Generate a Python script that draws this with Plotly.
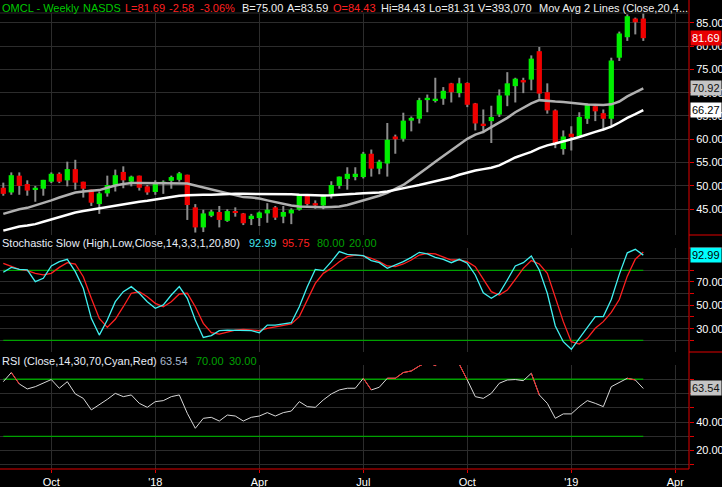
import plotly.graph_objects as go
import pandas as pd

# ---------------- data ----------------
dates = pd.date_range("2017-08-21", periods=81, freq="7D")

opens = [49.6, 48.6, 52.2, 50.4, 49.2, 49.4, 50.9, 52.6, 51.2, 53.6,
         50.9, 49.2, 46.1, 48.4, 50.2, 53.0, 50.9, 52.2, 49.9, 48.7,
         50.6, 51.1, 51.3, 52.4, 45.4, 41.1, 43.6, 44.4, 42.5, 44.45,
         44.1, 42.9, 43.1, 44.1, 45.4, 43.4, 44.1, 44.9, 47.9, 46.3,
         45.8, 48.1, 50.0, 51.5, 51.9, 51.9, 56.9, 53.7, 54.8, 60.6,
         60.1, 64.0, 64.4, 68.4, 68.4, 68.7, 72.0, 69.9, 72.1, 67.7,
         63.35, 63.9, 65.3, 69.4, 71.4, 72.7, 72.8, 78.9, 70.1, 66.2,
         57.9, 61.2, 60.6, 64.4, 67.1, 65.6, 64.4, 77.5, 81.9, 85.9, 85.9]
highs = [50.7, 52.9, 52.9, 51.2, 50.0, 51.3, 52.9, 52.9, 55.2, 55.6,
         50.9, 49.2, 48.8, 52.2, 53.5, 54.2, 52.2, 52.2, 50.2, 51.2,
         51.2, 52.2, 53.0, 52.4, 46.1, 44.9, 44.9, 45.7, 45.0, 45.4,
         44.2, 44.0, 44.5, 46.3, 45.7, 45.7, 45.2, 48.2, 48.2, 46.9,
         48.1, 51.0, 52.0, 54.0, 54.0, 57.3, 57.8, 55.6, 63.5, 61.0,
         65.7, 64.9, 68.9, 69.6, 73.2, 71.2, 72.1, 73.2, 72.2, 67.8,
         66.4, 67.2, 70.7, 74.4, 73.2, 73.2, 78.0, 79.8, 72.0, 66.4,
         61.9, 62.8, 65.8, 67.7, 67.4, 66.4, 77.5, 83.1, 86.8, 86.1, 87.0]
lows = [47.9, 48.1, 48.1, 47.9, 46.6, 47.9, 50.6, 50.6, 49.9, 49.2,
        47.5, 45.7, 44.0, 47.7, 48.8, 49.5, 49.9, 49.0, 48.1, 48.1,
        48.3, 49.4, 50.9, 42.7, 40.0, 40.1, 43.3, 41.1, 42.3, 43.4,
        41.6, 41.6, 41.4, 42.1, 42.7, 42.0, 41.8, 44.7, 45.8, 45.1,
        45.0, 47.3, 49.4, 49.2, 51.2, 51.6, 52.0, 52.5, 52.0, 56.9,
        59.5, 61.7, 63.4, 65.8, 67.9, 67.4, 67.9, 69.0, 66.9, 61.9,
        61.3, 59.2, 64.8, 67.1, 67.9, 69.9, 70.5, 68.7, 65.5, 58.1,
        56.7, 57.6, 60.5, 63.3, 63.9, 61.9, 62.9, 76.8, 81.1, 82.5, 81.1]
closes = [48.3, 52.3, 50.0, 49.0, 49.6, 51.3, 52.6, 50.9, 53.6, 50.7,
          49.4, 46.4, 48.4, 50.2, 52.3, 51.2, 52.0, 49.6, 48.6, 50.4,
          50.9, 51.9, 52.7, 45.9, 41.1, 44.1, 44.5, 42.7, 44.6, 44.2,
          42.0, 43.6, 44.3, 44.9, 43.2, 44.4, 44.9, 48.1, 46.1, 45.8,
          47.9, 50.2, 52.0, 52.6, 52.6, 56.9, 53.7, 55.2, 59.9, 60.0,
          64.0, 64.6, 68.4, 68.9, 68.7, 70.4, 70.1, 72.0, 67.4, 63.4,
          63.0, 64.8, 69.4, 72.0, 73.0, 72.2, 77.3, 69.8, 66.2, 59.0,
          60.6, 60.5, 64.8, 67.4, 66.0, 64.4, 76.9, 82.7, 86.4, 85.1, 81.69]

ma20 = [44.0, 44.5, 45.0, 45.3, 45.8, 46.3, 46.9, 47.5, 48.1, 48.6,
        48.8, 48.9, 49.1, 49.6, 50.1, 50.4, 50.6, 50.6, 50.6, 50.6,
        50.6, 50.6, 50.6, 50.5, 50.1, 49.7, 49.3, 48.8, 48.5, 48.0,
        47.6, 47.5, 47.3, 46.9, 46.5, 46.1, 45.8, 45.6, 45.5, 45.4,
        45.4, 45.5, 45.6, 45.9, 46.4, 46.8, 47.3, 47.9, 48.5, 49.3,
        50.2, 51.4, 52.6, 53.9, 55.2, 56.4, 57.6, 58.9, 60.1, 61.0,
        61.6, 62.6, 63.6, 64.6, 65.8, 66.7, 67.7, 68.4, 68.2, 68.1,
        68.0, 67.8, 67.6, 67.45, 67.4, 67.35, 67.5, 68.1, 69.2, 70.1, 70.92]
ma40 = [40.4, 40.9, 41.3, 41.5, 41.8, 42.3, 42.8, 43.3, 43.9, 44.3,
        44.6, 44.9, 45.1, 45.4, 45.7, 46.0, 46.4, 46.6, 46.8, 47.1,
        47.4, 47.6, 47.9, 48.0, 48.1, 48.1, 48.1, 48.2, 48.2, 48.3,
        48.3, 48.3, 48.3, 48.3, 48.25, 48.2, 48.2, 48.1, 48.0, 47.95,
        47.95, 48.0, 48.05, 48.1, 48.3, 48.45, 48.5, 48.6, 48.8, 49.1,
        49.5, 49.85, 50.2, 50.6, 51.0, 51.4, 51.8, 52.4, 52.9, 53.3,
        53.6, 53.9, 54.4, 55.3, 56.1, 56.7, 57.3, 58.1, 58.7, 59.1,
        59.5, 60.0, 60.5, 61.1, 61.6, 62.1, 62.7, 63.6, 64.6, 65.4, 66.27]

stoch_k = [78.3, 82.5, 80.8, 80.3, 70.3, 73.1, 83.7, 87.4, 89.4, 78.8,
           64.6, 38.8, 24.5, 37.4, 53.1, 61.7, 66.0, 60.3, 53.1, 47.4,
           50.3, 58.8, 66.0, 56.0, 37.4, 22.5, 24.0, 28.3, 28.8, 28.8,
           28.3, 28.3, 26.5, 33.1, 33.1, 34.0, 35.1, 48.8, 66.0, 80.8,
           79.7, 87.4, 96.0, 93.7, 93.1, 92.5, 88.3, 86.5, 81.7, 84.5,
           87.4, 91.1, 95.4, 94.0, 91.1, 89.4, 86.5, 89.4, 86.0, 76.0,
           60.8, 56.0, 60.3, 71.7, 83.7, 86.5, 92.3, 80.3, 60.3, 32.3,
           18.8, 12.3, 21.7, 31.1, 40.3, 40.3, 55.0, 76.5, 95.0, 98.0, 92.99]
stoch_d = [86.0, 83.7, 80.8, 79.7, 77.4, 76.0, 77.4, 82.5, 86.5, 85.4,
           74.5, 56.0, 38.8, 31.1, 38.0, 48.8, 60.3, 61.7, 57.4, 51.7,
           48.8, 53.1, 59.7, 60.3, 48.8, 34.5, 26.5, 25.4, 27.4, 28.8,
           29.4, 28.8, 28.3, 30.3, 31.7, 33.1, 34.0, 40.3, 54.5, 68.8,
           77.4, 81.7, 87.4, 91.7, 93.1, 92.3, 90.3, 87.4, 83.7, 83.1,
           85.4, 88.8, 93.1, 94.5, 94.0, 91.1, 88.8, 88.8, 87.4, 83.1,
           72.3, 61.7, 58.8, 63.1, 72.3, 81.7, 88.3, 85.4, 77.4, 57.4,
           36.0, 18.8, 16.8, 21.7, 30.3, 36.0, 44.0, 55.0, 75.0, 89.5, 95.75]
rsi = [68.3, 74.7, 66.7, 63.2, 64.8, 67.2, 69.8, 63.7, 68.3, 59.7,
       56.6, 48.5, 52.0, 55.9, 60.1, 57.8, 59.0, 53.1, 50.3, 54.3,
       55.0, 57.8, 59.0, 46.1, 35.6, 42.6, 43.3, 40.7, 44.9, 44.2,
       40.7, 43.3, 44.2, 46.6, 44.2, 46.6, 47.7, 54.3, 50.8, 50.3,
       55.5, 59.7, 62.5, 63.7, 63.7, 70.7, 62.5, 64.4, 70.7, 70.7,
       74.7, 75.8, 79.3, 82.0, 79.6, 84.0, 85.0, 80.5, 69.5, 57.8,
       56.6, 60.1, 67.2, 69.5, 69.8, 69.0, 74.2, 59.0, 53.1, 42.6,
       45.7, 45.7, 50.8, 55.0, 53.1, 50.8, 64.8, 67.6, 70.7, 69.5, 63.54]

tick_dates = ["2017-10-02", "2018-01-01", "2018-04-02", "2018-07-02",
              "2018-10-01", "2018-12-31", "2019-04-01"]
tick_labels = ["Oct", "'18", "Apr", "Jul", "Oct", "'19", "Apr"]
price_ticks = [45, 50, 55, 60, 65, 70, 75, 80, 85]
stoch_ticks = [20, 30, 40, 50, 60, 70, 80, 90]
stoch_labeled = [30, 50, 70]
rsi_ticks = [10, 20, 30, 40, 50, 60, 70]
rsi_labeled = [20, 40]
stoch_levels = [80, 20]
rsi_levels = [70, 30]

# ---------------- geometry / style ----------------
W, H = 722, 487
ML, MR, MT, MB = 0, 33, 13, 18
PW = W - ML - MR
PH = H - MT - MB


def yp(ypx):
    return (H - MB - ypx) / PH


def xp(xpx):
    return (xpx - ML) / PW


GRID = "#2c2c2c"
RED_AX = "#e00000"
UP = "#00ee00"
DOWN = "#f00000"
WICK = "#8c8c8c"
FONT = "Liberation Sans, Arial, sans-serif"
x_range = ["2017-08-18 02:40", "2019-04-12 23:40"]
DAY_MS = 86400000
BODY_MS = 4.6 * DAY_MS
WICK_MS = 1.75 * DAY_MS

fig = go.Figure()

# wicks (thin bars, drawn first)
fig.add_trace(go.Bar(x=dates, y=[h - l for h, l in zip(highs, lows)], base=lows,
                     width=WICK_MS, marker=dict(color=WICK, line=dict(width=0)),
                     xaxis="x", yaxis="y", hoverinfo="skip"))
# bodies
base = [min(o, c) for o, c in zip(opens, closes)]
hgt = [abs(c - o) for o, c in zip(opens, closes)]
cols = [UP if c >= o else DOWN for o, c in zip(opens, closes)]
fig.add_trace(go.Bar(x=dates, y=hgt, base=base, width=BODY_MS,
                     marker=dict(color=cols, line=dict(width=0)),
                     xaxis="x", yaxis="y", hoverinfo="skip"))
# moving averages
fig.add_trace(go.Scatter(x=dates, y=ma20, mode="lines", line=dict(color="#b0b0b0", width=2.5),
                         xaxis="x", yaxis="y"))
fig.add_trace(go.Scatter(x=dates, y=ma40, mode="lines", line=dict(color="#ffffff", width=2.5),
                         xaxis="x", yaxis="y"))

# stochastic
for lv in stoch_levels:
    fig.add_trace(go.Scatter(x=[dates[0], dates[-1]], y=[lv, lv], mode="lines",
                             line=dict(color="#00a000", width=1.3), xaxis="x2", yaxis="y2"))
fig.add_trace(go.Scatter(x=dates, y=stoch_d, mode="lines", line=dict(color="#ff2020", width=1.3),
                         xaxis="x2", yaxis="y2"))
fig.add_trace(go.Scatter(x=dates, y=stoch_k, mode="lines", line=dict(color="#40f0f0", width=1.3),
                         xaxis="x2", yaxis="y2"))

# RSI
for lv in rsi_levels:
    fig.add_trace(go.Scatter(x=[dates[0], dates[-1]], y=[lv, lv], mode="lines",
                             line=dict(color="#00a000", width=1.3), xaxis="x3", yaxis="y3"))
fig.add_trace(go.Scatter(x=dates, y=rsi, mode="lines", line=dict(color="#d8d8d8", width=1),
                         xaxis="x3", yaxis="y3"))
rx, ry = [], []
for i in range(len(rsi) - 1):
    if rsi[i] > 70:
        rx += [dates[i], dates[i + 1], None]
        ry += [rsi[i], rsi[i + 1], None]
fig.add_trace(go.Scatter(x=rx, y=ry, mode="lines", line=dict(color="#ff2020", width=1),
                         xaxis="x3", yaxis="y3"))

xcommon = dict(type="date", range=x_range, tickmode="array", tickvals=tick_dates,
               ticktext=tick_labels, showgrid=True, gridcolor=GRID, gridwidth=1,
               zeroline=False, showline=False, fixedrange=True)
tickfont = dict(color="#ffffff", size=11, family=FONT)


def yaxis_cfg(domain, rng, ticks, labels, anchor):
    return dict(domain=domain, range=rng, side="right", anchor=anchor,
                tickmode="array", tickvals=ticks, ticktext=labels,
                ticks="outside", ticklen=4, tickcolor=RED_AX, tickwidth=1,
                tickfont=tickfont, showgrid=True, gridcolor=GRID, gridwidth=1,
                zeroline=False, showline=False, automargin=False)


fig.update_layout(
    template="none",
    width=W, height=H,
    margin=dict(l=ML, r=MR, t=MT, b=MB, pad=0),
    paper_bgcolor="#000000", plot_bgcolor="#000000",
    font=dict(family=FONT, size=11, color="#ffffff"),
    showlegend=False, hovermode=False, barmode="overlay",
    xaxis=dict(xcommon, domain=[0, 1], anchor="y", showticklabels=False, ticks=""),
    xaxis2=dict(xcommon, domain=[0, 1], anchor="y2", showticklabels=False, ticks=""),
    xaxis3=dict(xcommon, domain=[0, 1], anchor="y3", showticklabels=True, ticks="outside",
                ticklen=3, tickcolor=RED_AX, tickfont=tickfont, automargin=False),
    yaxis=yaxis_cfg([yp(235), 1], [39.47, 87.09], price_ticks,
                    [f"{v:.2f}" for v in price_ticks], "x"),
    yaxis2=yaxis_cfg([yp(352), yp(248)], [10.0, 99.1], stoch_ticks,
                     [f"{v:.2f}" if v in stoch_labeled else "" for v in stoch_ticks], "x2"),
    yaxis3=yaxis_cfg([0, yp(365)], [7.05, 80.0], rsi_ticks,
                     [f"{v:.2f}" if v in rsi_labeled else "" for v in rsi_ticks], "x3"),
)

shapes = [
    dict(type="line", xref="paper", yref="paper", x0=1, x1=1, y0=0, y1=yp(0),
         line=dict(color=RED_AX, width=1)),
    dict(type="line", xref="paper", yref="paper", x0=0, x1=1, y0=0, y1=0,
         line=dict(color=RED_AX, width=1)),
    dict(type="line", xref="paper", yref="paper", x0=0, x1=1, y0=1, y1=1,
         line=dict(color=GRID, width=1)),
]
for ypx in (235, 248, 352):
    shapes.append(dict(type="line", xref="paper", yref="paper", x0=1, x1=xp(W),
                       y0=yp(ypx), y1=yp(ypx), line=dict(color=RED_AX, width=1)))
fig.update_layout(shapes=shapes)

GREEN_T = "#00c800"
RED_T = "#ff2020"
WHITE_T = "#f0f0f0"
ann = []


def label(xpx, ypx, text, color):
    ann.append(dict(x=xp(xpx), y=yp(ypx), xref="paper", yref="paper", xanchor="left",
                    yanchor="middle", text=text, showarrow=False, borderpad=0,
                    font=dict(color=color, size=11, family=FONT)))


ty = 8.5
label(1, ty, "OMCL - Weekly", GREEN_T)
label(82, ty, "NASDS", GREEN_T)
label(124, ty, "L=81.69", RED_T)
label(168, ty, "-2.58", RED_T)
label(199, ty, "-3.06%", RED_T)
label(241, ty, "B=75.00", WHITE_T)
label(286, ty, "A=83.59", WHITE_T)
label(332, ty, "O=84.43", RED_T)
label(380, ty, "Hi=84.43", WHITE_T)
label(428, ty, "Lo=81.31", WHITE_T)
label(477, ty, "V=393,070", WHITE_T)
label(538, ty, "Mov Avg 2 Lines (Close,20,4", WHITE_T)
label(678, ty, "...", WHITE_T)

sy = 243.5
label(1, sy, "Stochastic Slow (High,Low,Close,14,3,3,1,20,80)", "#e8eef8")
label(248, sy, "92.99", "#40e8f0")
label(281, sy, "95.75", RED_T)
label(316, sy, "80.00", "#00a000")
label(348, sy, "20.00", "#00a000")

ry_ = 360.5
label(1, ry_, "RSI (Close,14,30,70,Cyan,Red)", "#e8eef8")
label(159, ry_, "63.54", "#a8b8cc")
label(195, ry_, "70.00", "#00a000")
label(228, ry_, "30.00", "#00a000")


def valbox(val, yref, bg, fg):
    ann.append(dict(x=1, xref="paper", xanchor="left", xshift=1, y=val, yref=yref,
                    yanchor="middle", text=f"{val:.2f}", showarrow=False, bgcolor=bg,
                    borderpad=1, font=dict(color=fg, size=11, family=FONT)))


valbox(closes[-1], "y", "#e80000", "#ffffff")
valbox(ma20[-1], "y", "#c4c4c4", "#101010")
valbox(ma40[-1], "y", "#ffffff", "#000000")
valbox(stoch_k[-1], "y2", "#00ffff", "#000000")
valbox(rsi[-1], "y3", "#c4c4c4", "#101010")

fig.update_layout(annotations=ann)

fig.write_html("out.html", config={"displayModeBar": False},
               post_script="document.body.style.margin='0px';document.body.style.overflow='hidden';")
